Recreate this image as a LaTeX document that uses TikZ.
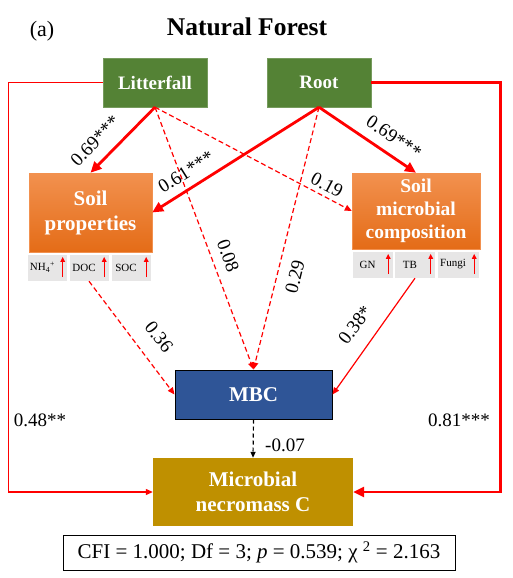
\documentclass[tikz,border=0pt]{standalone}
\usepackage{fontspec}
\setmainfont{Liberation Serif}
\usetikzlibrary{arrows,arrows.meta,shapes}
\usetikzlibrary{positioning}
\usetikzlibrary{calc}

\definecolor{leafgreen}{HTML}{548235}
\definecolor{soilorangetop}{HTML}{F2914F}
\definecolor{soilorangebot}{HTML}{E46C17}
\definecolor{subgray}{HTML}{E7E6E6}
\definecolor{mbcblue}{HTML}{2F5597}
\definecolor{necrogold}{HTML}{BF9000}
\definecolor{pathred}{HTML}{FF0000}

\tikzset{
  sourcebox/.style={fill=leafgreen, draw=leafgreen!80!white, text=white,
    font=\fontsize{19}{21}\selectfont\bfseries, minimum width=104pt,
    minimum height=49pt, inner sep=0pt},
  soilbox/.style={top color=soilorangetop, bottom color=soilorangebot,
    draw=soilorangetop, text=white, align=center, inner sep=0pt},
  subbox/.style={fill=subgray, draw=white, minimum height=27pt, inner sep=0pt,
    font=\fontsize{11}{12}\selectfont},
  upred/.style={draw=pathred, line width=1.3pt, -{Triangle[length=5pt,width=4.5pt]}},
  strong/.style={draw=pathred, line width=2.8pt, -{Triangle[length=11pt,width=10pt]}},
  weak/.style={draw=pathred, line width=1.2pt, -{Triangle[length=7pt,width=6pt]}},
  weakdash/.style={weak, dash pattern=on 5pt off 3pt},
  coef/.style={font=\fontsize{19}{20}\selectfont, inner sep=0pt}
}

\begin{document}
\begin{tikzpicture}[x=1pt, y=-1pt]
  \useasboundingbox (0,0) rectangle (512,578);

  % title
  \node (panel) at (42,31) {\fontsize{22}{24}\selectfont (a)};
  \node (title) at (247,27) {\fontsize{25.5}{28}\selectfont\bfseries Natural Forest};

  % drivers
  \node[sourcebox] (litter) at (155,82.5) {Litterfall};
  \node[sourcebox] (root) at (319,82.5) {Root};

  % soil blocks
  \node[soilbox, minimum width=123pt, minimum height=79pt,
    font=\fontsize{21}{25}\selectfont\bfseries] (soilp) at (90.5,212.5) {Soil\\properties};
  \node[soilbox, minimum width=128pt, minimum height=76pt,
    font=\fontsize{19.5}{23}\selectfont\bfseries] (soilm) at (416,211) {Soil\\microbial\\composition};

  \foreach \name/\txt/\x/\w in {nh/NH\textsubscript{4}\textsuperscript{+}/47.5/40, doc/DOC/89/40, soc/SOC/131/40} {
    \node[subbox, minimum width=\w pt] (\name) at (\x,267.5) {\txt\hspace*{10pt}};
    \draw[upred] ([xshift=-5pt,yshift=4pt]\name.south east) -- ([xshift=-5pt,yshift=-3pt]\name.north east);
  }
  \foreach \name/\txt/\x/\w in {gn/GN/372.5/41, tb/TB/415/41, fungi/Fungi/458/42} {
    \node[subbox, minimum width=\w pt] (\name) at (\x,264.5) {\txt\hspace*{10pt}};
    \draw[upred] ([xshift=-5pt,yshift=4pt]\name.south east) -- ([xshift=-5pt,yshift=-3pt]\name.north east);
  }

  % responses
  \node[fill=mbcblue, draw=black, line width=1pt, text=white, minimum width=157pt,
    minimum height=49pt, font=\fontsize{21}{23}\selectfont\bfseries] (mbc) at (253.5,394.5) {MBC};
  \node[fill=necrogold, text=white, minimum width=200pt, minimum height=68pt, align=center,
    font=\fontsize{21}{25}\selectfont\bfseries] (mnc) at (253,492) {Microbial\\necromass C};

  % paths
  \draw[strong] (litter.south) -- (soilp.north);
  \draw[strong] (root.south) -- (soilm.north);
  \draw[strong] (root.south) -- (soilp.east);
  \draw[weakdash] (litter.south) -- (mbc.north);
  \draw[weakdash] (litter.south) -- (soilm.west);
  \draw[weakdash] (root.south) -- (mbc.north);
  \draw[weakdash] (doc.south) -- (mbc.west);
  \draw[weak] (tb.south) -- (mbc.east);
  \draw[weak] (litter.west) -- ++(-94,0) |- (mnc.west);
  \draw[strong] (root.east) -- ++(129,0) |- (mnc.east);
  \draw[line width=1.2pt, dash pattern=on 4pt off 3pt, -{Triangle[length=6pt,width=5pt]}] (mbc.south) -- (mnc.north);

  % coefficients
  \node[coef, rotate=46] (c1) at (95,141) {0.69***};
  \node[coef, rotate=-34] (c2) at (394,137) {0.69***};
  \node[coef, rotate=32] (c3) at (186,172) {0.61***};
  \node[coef, rotate=-28] (c4) at (327,185) {0.19};
  \node[coef, rotate=-70] (c5) at (228,256) {0.08};
  \node[coef, rotate=76] (c6) at (295,277) {0.29};
  \node[coef, rotate=-52] (c7) at (159,337) {0.36};
  \node[coef, rotate=53] (c8) at (355,325) {0.38*};
  \node[coef] (c9) at (40,420) {0.48**};
  \node[coef] (c10) at (459,420) {0.81***};
  \node[coef] (c11) at (285,445) {-0.07};

  % fit indices
  \node[draw=black, line width=0.8pt, minimum width=392pt, minimum height=35pt,
    font=\fontsize{21}{23}\selectfont] (fit) at (259,552.5)
    {CFI = 1.000; Df = 3; \textit{p} = 0.539; χ \textsuperscript{2} = 2.163};
\end{tikzpicture}
\end{document}
